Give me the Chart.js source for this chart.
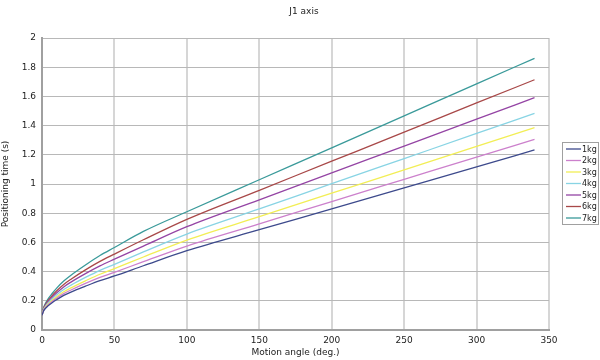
<!DOCTYPE html>
<html><head><meta charset="utf-8">
<script src="https://cdn.jsdelivr.net/npm/chart.js@4/dist/chart.umd.min.js"></script>
<style>html,body{margin:0;padding:0;background:#fff}#wrap{width:600px;height:360px}</style>
</head><body><div id="wrap"><canvas id="c" width="600" height="360"></canvas></div>
<script>
const chartTitle = 'J1 axis';
const angles = [0,1,2,4,7,10,15,20,30,40,50,70,100,150,200,250,300,340];
const seriesLabels = ['1kg','2kg','3kg','4kg','5kg','6kg','7kg'];
const s1kg = [0.10,0.129,0.144,0.164,0.187,0.207,0.237,0.26,0.30,0.338,0.37,0.44,0.543,0.687,0.83,0.974,1.118,1.233];
const s2kg = [0.10,0.132,0.148,0.17,0.195,0.217,0.249,0.274,0.319,0.36,0.395,0.468,0.575,0.727,0.88,1.032,1.184,1.306];
const s3kg = [0.10,0.134,0.152,0.176,0.203,0.227,0.262,0.289,0.337,0.382,0.42,0.50,0.616,0.776,0.937,1.097,1.258,1.386];
const s4kg = [0.10,0.138,0.156,0.183,0.213,0.239,0.277,0.307,0.36,0.409,0.45,0.535,0.657,0.829,1.002,1.174,1.346,1.484];
const s5kg = [0.10,0.141,0.162,0.191,0.224,0.253,0.295,0.328,0.386,0.439,0.485,0.575,0.708,0.892,1.076,1.26,1.444,1.591];
const s6kg = [0.10,0.145,0.168,0.199,0.235,0.267,0.312,0.348,0.412,0.47,0.52,0.618,0.758,0.957,1.156,1.355,1.555,1.714];
const s7kg = [0.10,0.15,0.175,0.21,0.25,0.285,0.335,0.375,0.445,0.51,0.565,0.675,0.81,1.029,1.248,1.467,1.686,1.861];
const allSeries = [s1kg,s2kg,s3kg,s4kg,s5kg,s6kg,s7kg];
const colors = ['#3d4a8c','#cc80cc','#f2ee55','#88d4e4','#9444a4','#a84848','#3a9a9a'];
const FONT = '"DejaVu Sans", sans-serif';

const datasets = allSeries.map((vals,i)=>({
  label: seriesLabels[i],
  data: angles.map((a,j)=>({x:a,y:vals[j]})),
  borderColor: colors[i],
  borderWidth: 1.3,
  pointRadius: 0,
  fill: false,
  cubicInterpolationMode: 'monotone'
}));

const extras = {
  id: 'extras',
  afterDraw(chart){
    const ctx = chart.ctx;
    ctx.save();
    ctx.font = '9px ' + FONT;
    ctx.fillStyle = '#222';
    ctx.textAlign = 'center';
    ctx.textBaseline = 'middle';
    ctx.fillText(chartTitle, 304, 12);
    const x0 = 562, y0 = 142, w = 36, h = 82;
    ctx.textAlign = 'left';
    ctx.fillStyle = '#fff';
    ctx.fillRect(x0, y0, w, h);
    ctx.strokeStyle = '#a0a0a0';
    ctx.lineWidth = 1;
    ctx.strokeRect(x0+0.5, y0+0.5, w, h);
    ctx.font = '8px ' + FONT;
    chart.data.datasets.forEach((ds,i)=>{
      const y = y0 + 7 + i*11.5;
      ctx.strokeStyle = ds.borderColor;
      ctx.lineWidth = 1.3;
      ctx.beginPath(); ctx.moveTo(x0+4, y); ctx.lineTo(x0+19, y); ctx.stroke();
      ctx.fillStyle = '#222';
      ctx.fillText(ds.label, x0+20, y+0.5);
    });
    ctx.restore();
  }
};

new Chart(document.getElementById('c'), {
  type: 'line',
  data: { datasets },
  options: {
    responsive: false,
    animation: false,
    events: [],
    layout: { padding: { left: 0, right: 51, top: 38, bottom: 0 } },
    plugins: {
      legend: { display: false },
      tooltip: { enabled: false },
      title: { display: false }
    },
    scales: {
      x: {
        type: 'linear', min: 0, max: 350,
        ticks: { stepSize: 50, color: '#222', font: { family: FONT, size: 9 }, padding: 5, maxRotation: 0 },
        grid: { color: '#d6d6d6', lineWidth: 2, drawTicks: false },
        border: { color: '#a0a0a0', width: 2 },
        title: { display: true, text: 'Motion angle (deg.)', color: '#222', font: { family: FONT, size: 9 }, padding: { top: 1, bottom: 2 } },
        afterFit(s){ s.height = 30; }
      },
      y: {
        min: 0, max: 2,
        ticks: { stepSize: 0.2, color: '#222', font: { family: FONT, size: 9 }, padding: 6,
                 callback: v => String(Number(v.toFixed(1))) },
        grid: { color: '#b8b8b8', lineWidth: 1, drawTicks: false },
        border: { color: '#a0a0a0', width: 2 },
        title: { display: true, text: 'Positioning time (s)', color: '#222', font: { family: FONT, size: 9 }, padding: { top: 0, bottom: 2 } },
        afterFit(s){ s.width = 42; }
      }
    }
  },
  plugins: [extras]
});
</script></body></html>
